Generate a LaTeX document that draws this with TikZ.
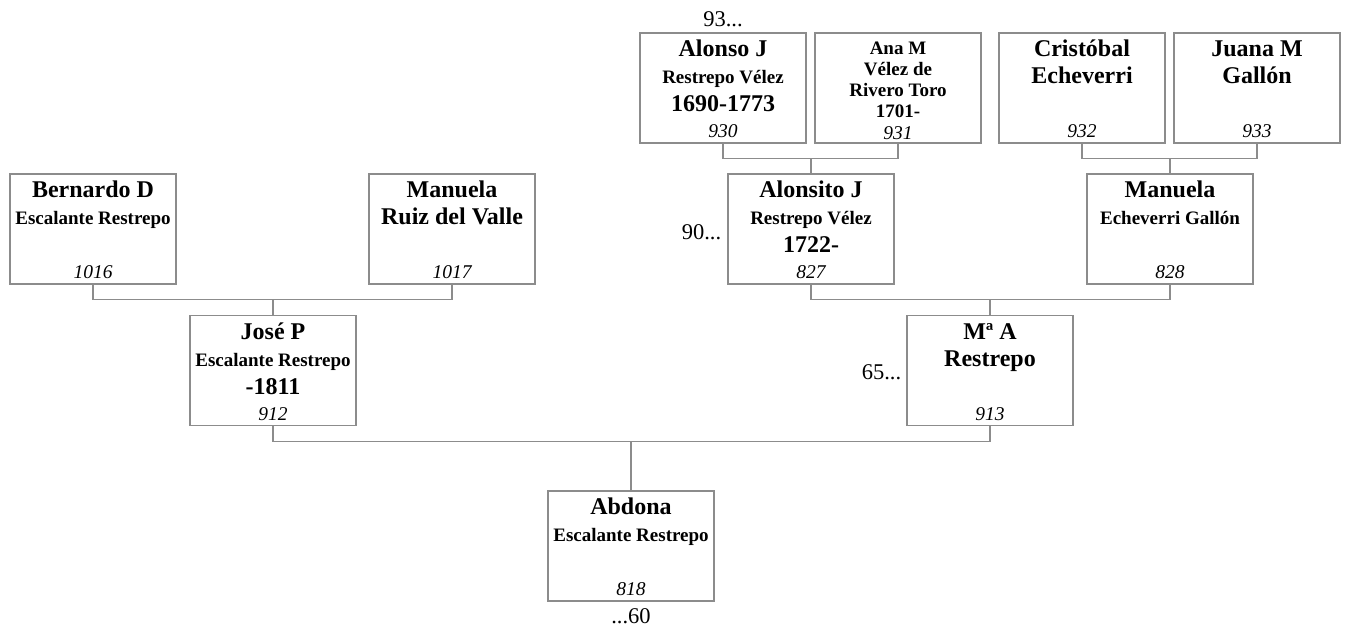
\documentclass[tikz,border=0pt]{standalone}
\usepackage{fontspec}
\setmainfont{Liberation Serif}
\usepackage{xcolor}
\usepackage{tikz}
\usetikzlibrary{positioning}

\definecolor{gris}{HTML}{8C8C8C}
\newcommand{\nombre}{\fontsize{24}{27}\selectfont\bfseries}
\newcommand{\apellido}{\fontsize{19}{27}\selectfont\bfseries}
\newcommand{\apellidoana}{\fontsize{19}{21}\selectfont\bfseries}
\newcommand{\fechas}{\fontsize{24}{28}\selectfont\bfseries}
\newcommand{\numero}{\fontsize{19.5}{22}\selectfont\itshape}
\newcommand{\ficha}[3][24pt]{\parbox[c][110pt][s]{166pt}{\centering\rule{0pt}{#1}#2\vfill{\numero #3\par}\vspace{5pt}}}

\begin{document}
\begin{tikzpicture}[x=1pt, y=1pt,
    caja/.style={draw=gris, line width=1.3pt, inner sep=0pt},
    union/.style={draw=gris, line width=1.3pt},
    marca/.style={inner sep=0pt, font=\fontsize{22.5}{26}\selectfont}]
    \useasboundingbox (0,0) rectangle (1346,626);

    % Bisabuelos
    \node[caja] (alonso) at (723,538) {\ficha{{\nombre Alonso J\par}{\apellido Restrepo Vélez\par}{\fechas 1690-1773\par}}{930}};
    \node[caja] (ana) at (898,538) {\ficha[22pt]{{\apellidoana Ana M\par Vélez de\par Rivero Toro\par 1701-\par}}{931}};
    \node[caja] (cristobal) at (1082,538) {\ficha{{\nombre Cristóbal\par Echeverri\par}}{932}};
    \node[caja] (juana) at (1257,538) {\ficha{{\nombre Juana M\par Gallón\par}}{933}};

    % Abuelos
    \node[caja] (bernardo) at (93,397) {\ficha{{\nombre Bernardo D\par}{\apellido Escalante Restrepo\par}}{1016}};
    \node[caja] (manuelar) at (452,397) {\ficha{{\nombre Manuela\par Ruiz del Valle\par}}{1017}};
    \node[caja] (alonsito) at (811,397) {\ficha{{\nombre Alonsito J\par}{\apellido Restrepo Vélez\par}{\fechas 1722-\par}}{827}};
    \node[caja] (manuelae) at (1170,397) {\ficha{{\nombre Manuela\par}{\apellido Echeverri Gallón\par}}{828}};

    % Padres
    \node[caja] (jose) at (273,255.5) {\ficha{{\nombre José P\par}{\apellido Escalante Restrepo\par}{\fechas -1811\par}}{912}};
    \node[caja] (maria) at (990,255.5) {\ficha{{\nombre Mª A\par Restrepo\par}}{913}};

    % Hija
    \node[caja] (abdona) at (631,80) {\ficha{{\nombre Abdona\par}{\apellido Escalante Restrepo\par}}{818}};

    % Marcas
    \node[marca, above=5pt of alonso] (t93) {93...};
    \node[marca, left=6pt of alonsito, yshift=-3pt] (t90) {90...};
    \node[marca, left=5pt of maria, yshift=-2pt] (t65) {65...};
    \node[marca, below=7pt of abdona] (t60) {...60};

    % Uniones
    \draw[union] (alonso.south) -- ++(0,-15) coordinate (j1) -| (ana.south);
    \draw[union] (j1 -| alonsito.north) -- (alonsito.north);
    \draw[union] (cristobal.south) -- ++(0,-15) coordinate (j2) -| (juana.south);
    \draw[union] (j2 -| manuelae.north) -- (manuelae.north);
    \draw[union] (bernardo.south) -- ++(0,-15) coordinate (j3) -| (manuelar.south);
    \draw[union] (j3 -| jose.north) -- (jose.north);
    \draw[union] (alonsito.south) -- ++(0,-15) coordinate (j4) -| (manuelae.south);
    \draw[union] (j4 -| maria.north) -- (maria.north);
    \draw[union] (jose.south) -- ++(0,-15.5) coordinate (j5) -| (maria.south);
    \draw[union] (j5 -| abdona.north) -- (abdona.north);
\end{tikzpicture}
\end{document}
